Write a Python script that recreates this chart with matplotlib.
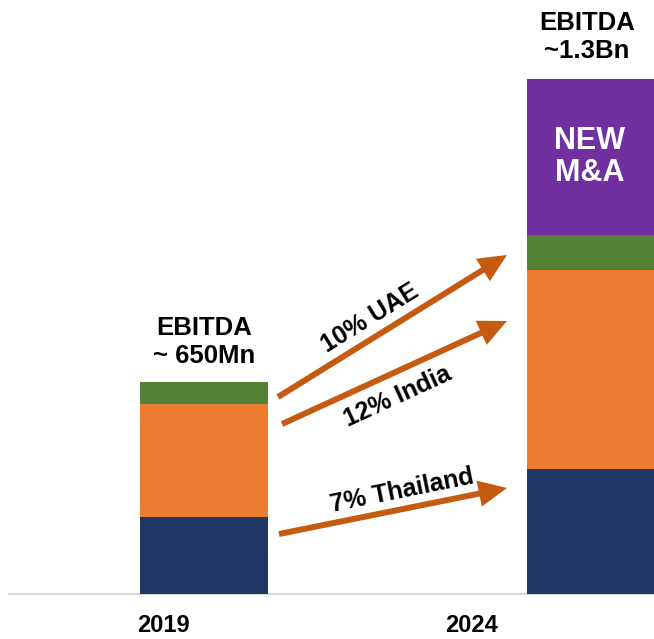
import numpy as np
import matplotlib
matplotlib.use('Agg')
import matplotlib.pyplot as plt

# data (chart units)
years = ['2019', '2024']
thailand = [77, 125]
india = [113, 199]
uae = [22, 35]
new_ma = [0, 156]
totals_txt = ['EBITDA\n~ 650Mn', 'EBITDA\n~1.3Bn']
growth = ['10% UAE', '12% India', '7% Thailand']

c_navy = '#203864'
c_orange = '#ed7d31'
c_green = '#548235'
c_purple = '#7030a0'
c_arrow = '#c55a11'

W, H = 654, 639
fig = plt.figure(figsize=(W / 100, H / 100), dpi=100)
ax = fig.add_axes([0, 0, 1, 1])

# pixel -> data helpers (bar centres at px 204 and 591)
def px(x):
    return (x - 204) / 387.0

def py(y):
    return 594 - y

ax.set_xlim(px(0), px(W))
ax.set_ylim(py(H), py(0))
ax.axis('off')

x = np.arange(len(years))
w = 128 / 387.0
ax.plot([px(9), px(W)], [0, 0], color='#d9d9d9', lw=1.6, zorder=1)

b = np.zeros(2)
for vals, col in [(thailand, c_navy), (india, c_orange), (uae, c_green), (new_ma, c_purple)]:
    ax.bar(x, vals, w, bottom=b, color=col, zorder=2)
    b = b + np.array(vals)

font = 'Liberation Sans'
ax.text(px(204), py(342), totals_txt[0], ha='center', va='center', fontsize=18.5,
        fontweight='bold', family=font, linespacing=1.2)
ax.text(px(587), py(37), totals_txt[1], ha='center', va='center', fontsize=18.5,
        fontweight='bold', family=font, linespacing=1.2)
ax.text(px(590), py(157), 'NEW\nM&A', ha='center', va='center', fontsize=22,
        fontweight='bold', family=font, color='white', linespacing=1.05)

for i, yr in enumerate(years):
    ax.text(px([163, 472][i]), py(626), yr, ha='center', va='center', fontsize=17,
            fontweight='bold', family=font)

# growth arrows
starts = [(278, 397), (282, 424), (279, 534)]
ends = [(507, 255), (507, 321), (507, 488)]
for (sx, sy), (ex, ey) in zip(starts, ends):
    ax.annotate('', xy=(px(ex), py(ey)), xytext=(px(sx), py(sy)),
                arrowprops=dict(arrowstyle='-|>,head_length=0.6,head_width=0.28',
                                lw=4.3, color=c_arrow, shrinkA=0, shrinkB=0,
                                mutation_scale=22, capstyle='butt',
                                joinstyle='miter'), zorder=3)

lab_pos = [(370, 318), (398, 397), (402, 491)]
lab_rot = [31.8, 24.6, 11.4]
for t, (lx, ly), r in zip(growth, lab_pos, lab_rot):
    ax.text(px(lx), py(ly), t, ha='center', va='center', rotation=r,
            rotation_mode='anchor', fontsize=18, fontweight='bold', family=font)

fig.savefig('out.png', dpi=100)
